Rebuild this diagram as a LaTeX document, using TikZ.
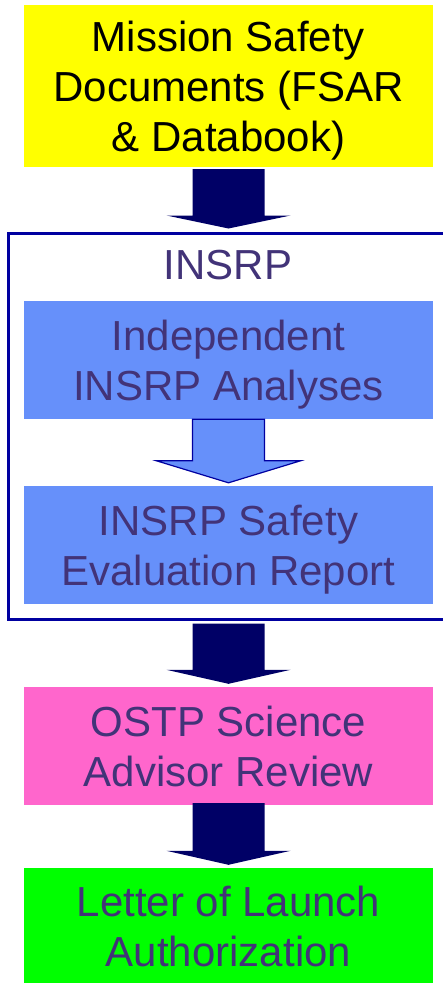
\documentclass[tikz,border=0pt]{standalone}
\usepackage{fontspec}
\setmainfont{Liberation Sans}
\usetikzlibrary{calc}
\definecolor{navyfill}{HTML}{000066}
\definecolor{frameblue}{HTML}{0000A0}
\definecolor{boxyellow}{HTML}{FFFF00}
\definecolor{boxblue}{HTML}{6690FA}
\definecolor{boxpink}{HTML}{FF66CC}
\definecolor{boxgreen}{HTML}{00FF00}
\definecolor{txtpurple}{HTML}{423378}
% block arrow: style, from, to, top gap, wing half width, head length
\newcommand{\blockarrow}[6]{%
  \path[#1] let \p1=(#2), \p2=(#3) in
    (\x1-36pt,\y1-#4) -- (\x1+36pt,\y1-#4) -- (\x1+36pt,\y2+#6+3pt) -- (\x1+#5,\y2+#6+3pt)
    -- (\x1,\y2+3pt) -- (\x1-#5,\y2+#6+3pt) -- (\x1-36pt,\y2+#6+3pt) -- cycle;}
\begin{document}
\begin{tikzpicture}[x=1pt, y=-1pt,
  every node/.style={font=\fontsize{42}{50}\selectfont, text=txtpurple, align=center, inner sep=0pt},
  stagebox/.style={minimum width=409pt, text depth=-2pt},
  navyarrow/.style={fill=navyfill},
  lightarrow/.style={fill=boxblue, draw=frameblue, line width=1.2pt, line join=miter}]
\useasboundingbox (0,0) rectangle (443,983);
\clip (0,0) rectangle (443,983);
% Boxes
\node[stagebox, fill=boxyellow, minimum height=162pt, text=black] (docs) at (228.5,86) {Mission Safety\\Documents (FSAR\\\& Databook)};
\node[draw=frameblue, line width=3pt, minimum width=446pt, minimum height=386pt] (frame) at (231,426) {};
\node (insrp) at (228,265) {INSRP};
\node[stagebox, fill=boxblue, minimum height=118pt] (analyses) at (228.5,360) {Independent\\INSRP Analyses};
\node[stagebox, fill=boxblue, minimum height=118pt] (report) at (228.5,545) {INSRP Safety\\Evaluation Report};
\node[stagebox, fill=boxpink, minimum height=118pt] (ostp) at (228.5,746) {OSTP Science\\Advisor Review};
\node[stagebox, fill=boxgreen, minimum height=116pt] (letter) at (228.5,926) {Letter of Launch\\Authorization};
% Arrows between stages
\blockarrow{navyarrow}{docs.south}{frame.north west -| docs.south}{2pt}{62pt}{13pt}
\blockarrow{lightarrow}{analyses.south}{report.north}{0pt}{72pt}{22pt}
\blockarrow{navyarrow}{frame.south west -| ostp.north}{ostp.north}{3pt}{62pt}{14pt}
\blockarrow{navyarrow}{ostp.south}{letter.north}{-2pt}{62pt}{14pt}
\end{tikzpicture}
\end{document}
